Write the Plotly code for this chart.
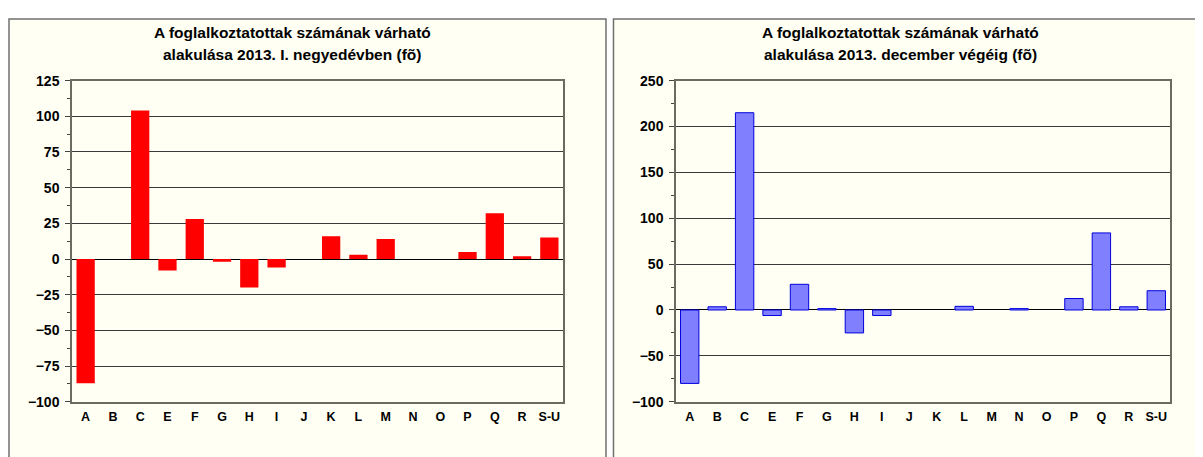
import plotly.graph_objects as go

categories = ["A", "B", "C", "E", "F", "G", "H", "I", "J", "K", "L", "M", "N", "O", "P", "Q", "R", "S-U"]
q1_values = [-87, 0, 104, -8, 28, -2, -20, -6, 0, 16, 3, 14, 0, 0, 5, 32, 2, 15]
dec_values = [-80, 3.5, 215, -6, 28, 1.5, -25, -6, 0, 0, 4, 0, 1.5, 0, 12.5, 84, 3.5, 21]

title_left_1 = "A foglalkoztatottak számának várható"
title_left_2 = "alakulása 2013. I. negyedévben (fõ)"
title_right_1 = "A foglalkoztatottak számának várható"
title_right_2 = "alakulása 2013. december végéig (fõ)"

OFF = 8  # default page body margin
W, H = 1203 - OFF, 457 - OFF
BG = "#FFFFF3"
FONT = "Arial, Liberation Sans, sans-serif"

def px_x(x):
    return (x - OFF) / W

def px_y(y):
    return 1 - (y - OFF) / H

fig = go.Figure()
fig.add_trace(go.Bar(x=categories, y=q1_values, xaxis="x", yaxis="y",
                     marker=dict(color="#FF0000", line=dict(width=0)), showlegend=False))
fig.add_trace(go.Bar(x=categories, y=dec_values, xaxis="x2", yaxis="y2",
                     marker=dict(color="#8080FF",
                                 line=dict(color="#0000DD", width=[0 if v == 0 else 1 for v in dec_values])),
                     showlegend=False))

xcommon = dict(type="category", showline=True, mirror=True, linecolor="#6b6b60", linewidth=1.5,
               ticks="outside", ticklen=3, tickcolor="rgba(0,0,0,0)", showgrid=False, zeroline=False,
               tickfont=dict(family=FONT, size=12.5, color="#000000"), fixedrange=True)
ycommon = dict(showline=True, mirror=True, linecolor="#6b6b60", linewidth=1.5,
               ticks="outside", ticklen=5, tickcolor="#444", tickwidth=1,
               showgrid=True, gridcolor="#3a3a3a", gridwidth=1,
               zeroline=True, zerolinecolor="#000000", zerolinewidth=1,
               ticklabelstandoff=3,
               tickfont=dict(family=FONT, size=14, color="#000000"), fixedrange=True)

def title_ann(text, x, y):
    return dict(text="<b>" + text + "</b>", xref="paper", yref="paper", x=px_x(x), y=px_y(y),
                xanchor="center", yanchor="middle", showarrow=False,
                font=dict(family=FONT, size=15.5, color="#000000"))

fig.update_layout(
    width=W, height=H,
    margin=dict(l=0, r=0, t=0, b=0),
    paper_bgcolor="#FFFFFF",
    plot_bgcolor=BG,
    bargap=0.33,
    font=dict(family=FONT, color="#000000"),
    xaxis=dict(domain=[px_x(72), px_x(563)], anchor="y", **xcommon),
    yaxis=dict(domain=[px_y(408), px_y(75)], anchor="x", range=[-100, 125], dtick=25,
               minor=dict(dtick=12.5, ticks="outside", ticklen=3, tickcolor="#444", showgrid=False),
               **ycommon),
    xaxis2=dict(domain=[px_x(676), px_x(1170)], anchor="y2", **xcommon),
    yaxis2=dict(domain=[px_y(408), px_y(75)], anchor="x2", range=[-100, 250], dtick=50,
                minor=dict(dtick=25, ticks="outside", ticklen=3, tickcolor="#444", showgrid=False),
                **ycommon),
    shapes=[
        dict(type="rect", xref="paper", yref="paper", x0=px_x(9), x1=px_x(606), y0=px_y(470), y1=px_y(11),
             line=dict(color="#707070", width=1.5), fillcolor=BG, layer="below"),
        dict(type="rect", xref="paper", yref="paper", x0=px_x(613.5), x1=px_x(1215), y0=px_y(470), y1=px_y(11),
             line=dict(color="#707070", width=1.5), fillcolor=BG, layer="below"),
    ],
    annotations=[
        title_ann(title_left_1, 292, 25),
        title_ann(title_left_2, 292, 48),
        title_ann(title_right_1, 900, 25),
        title_ann(title_right_2, 900, 48),
    ],
)

fig.for_each_xaxis(lambda a: a.update(tickprefix="<b>", ticksuffix="</b>"))
fig.for_each_yaxis(lambda a: a.update(tickprefix="<b>", ticksuffix="</b>"))

fig.write_html("out.html")
